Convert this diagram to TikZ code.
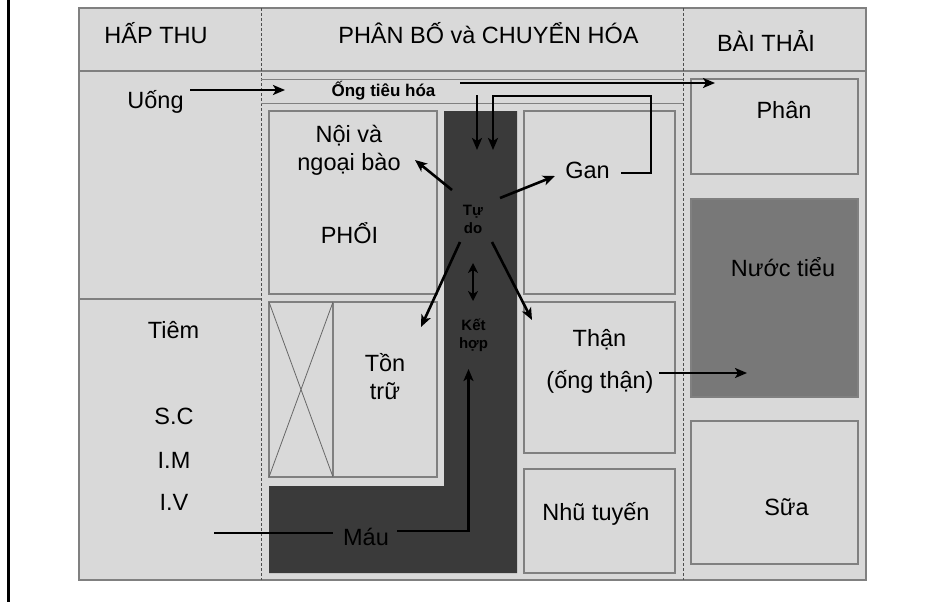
\documentclass[tikz,border=0pt]{standalone}
\usepackage{fontspec}
\setmainfont{Liberation Sans}
\usepackage{xcolor}
\definecolor{hcpale}{RGB}{217, 217, 217}
\definecolor{hcedge}{RGB}{128, 128, 128}
\definecolor{hcdark}{RGB}{58, 58, 58}
\definecolor{hcmid}{RGB}{120, 120, 120}
\usetikzlibrary{arrows.meta, positioning}

\tikzset{
    lbl/.style={font=\fontsize{23.5}{28}\selectfont, align=center, inner sep=0pt, anchor=base},
    tag/.style={font=\bfseries\fontsize{15}{17.5}\selectfont, align=center, inner sep=0pt, anchor=base},
    box/.style={draw=hcedge, line width=1.3pt, fill=hcpale},
    rule/.style={draw=hcedge, line width=1.3pt},
    sep/.style={draw=hcedge!60!black, line width=1pt, dash pattern=on 3pt off 2pt},
    arr/.style={-{Stealth[length=12pt, width=10pt, inset=3pt]}, line width=2.6pt},
    flow/.style={line width=2.6pt},
}

\begin{document}
\begin{tikzpicture}[x=1pt, y=-1pt, >=Stealth]
\useasboundingbox (0,0) rectangle (952,602);

% === Vien trai ===
\draw[line width=3pt] (8.5,0) -- (8.5,602);

% === Khung chinh ===
\draw[box] (79,8) rectangle (866,580);
\draw[rule] (79,71) -- (866,71);
\draw[rule] (79,299) -- (261,299);
\draw[sep] (261,8) -- (261,580);
\draw[sep] (683,8) -- (683,580);
\draw[rule, line width=1pt] (261,79) -- (683,79);
\draw[rule, line width=1pt] (261,103) -- (683,103);

% === Cac o ===
\foreach \xa/\ya/\xb/\yb in {
    269/111/437/294,
    269/302/437/477,
    524/111/675/294,
    524/302/675/453,
    524/469/675/573,
    691/79/858/174,
    691/421/858/564
} {
    \draw[box] (\xa,\ya) rectangle (\xb,\yb);
}
\draw[box, fill=hcmid] (691,199) rectangle (858,397);

% O gach cheo
\draw[box] (269,302) rectangle (333,477);
\draw[hcedge!80!black, line width=0.8pt] (269,302) -- (333,477) (333,302) -- (269,477);

% Cot mau
\fill[hcdark] (444,111) -- (517,111) -- (517,573) -- (269,573) -- (269,486) -- (444,486) -- cycle;

% === Chu ===
\node[lbl] (hapthu) at (156,44) {HẤP THU};
\node[lbl] (phanbo) at (488.5,44) {PHÂN BỐ và CHUYỂN HÓA};
\node[lbl] (baithai) at (766,52) {BÀI THẢI};
\node[lbl] (uong) at (155.5,108) {Uống};
\node[tag, font=\bfseries\fontsize{17}{20}\selectfont] (ongtieuhoa) at (383.5,96) {Ống tiêu hóa};
\node[lbl] (noi) at (349,170.5) {Nội và\\ngoại bào};
\node[lbl] (phoi) at (349.5,243) {PHỔI};
\node[tag] (tudo) at (473,233) {Tự\\do};
\node[tag] (kethop) at (473.5,348) {Kết\\hợp};
\node[lbl] (gan) at (587.5,178) {Gan};
\node[lbl] (than) at (599.5,346) {Thận};
\node[lbl] (ongthan) at (600,388) {(ống thận)};
\node[lbl] (ton) at (385,399) {Tồn\\trữ};
\node[lbl] (tiem) at (173.5,338) {Tiêm};
\foreach \y/\name/\txt in {424/sc/S.C, 468/im/I.M, 510/iv/I.V} {
    \node[lbl] (\name) at (174,\y) {\txt};
}
\node[lbl] (mau) at (366,545) {Máu};
\node[lbl] (phan) at (784,118) {Phân};
\node[lbl] (nuoctieu) at (783,276) {Nước tiểu};
\node[lbl] (nhutuyen) at (596,520) {Nhũ tuyến};
\node[lbl] (sua) at (786.5,515) {Sữa};

% === Diem noi ===
\coordinate (uongA) at (190,90);
\coordinate (uongB) at (285,90);
\coordinate (ongA) at (460,83);
\coordinate (ongB) at (715,83);
\coordinate (ongC) at (477,95);
\coordinate (ongD) at (477,150);
\coordinate (ganA) at (621,173);
\coordinate (ganB) at (493,150);
\coordinate (tdNW) at (452,190);
\coordinate (tdNE) at (500,198);
\coordinate (tdSW) at (460,242);
\coordinate (tdSE) at (492,242);
\coordinate (noiP) at (415,160);
\coordinate (ganP) at (555,176);
\coordinate (tonP) at (421,327);
\coordinate (thanP) at (532,320);
\coordinate (khA) at (473,263);
\coordinate (khB) at (473,301);
\coordinate (mauL) at (214,533);
\coordinate (mauR) at (333,533);
\coordinate (mauS) at (397,531);
\coordinate (mauT) at (468.5,369);
\coordinate (thanA) at (659,373);
\coordinate (thanB) at (747,373);

% === Mui ten ===
\draw[arr] (uongA) -- (uongB);
\draw[arr] (ongA) -- (ongB);
\draw[arr] (ongC) -- (ongD);
\draw[arr] (ganA) -| (651,96) -| (ganB);
\draw[arr] (tdNW) -- (noiP);
\draw[arr] (tdNE) -- (ganP);
\draw[arr] (tdSW) -- (tonP);
\draw[arr] (tdSE) -- (thanP);
\draw[{Stealth[length=10pt, width=10pt, inset=3pt]}-{Stealth[length=10pt, width=10pt, inset=3pt]}, line width=2.6pt] (khA) -- (khB);
\draw[flow] (mauL) -- (mauR);
\draw[arr] (mauS) -| (mauT);
\draw[arr] (thanA) -- (thanB);

\end{tikzpicture}
\end{document}
